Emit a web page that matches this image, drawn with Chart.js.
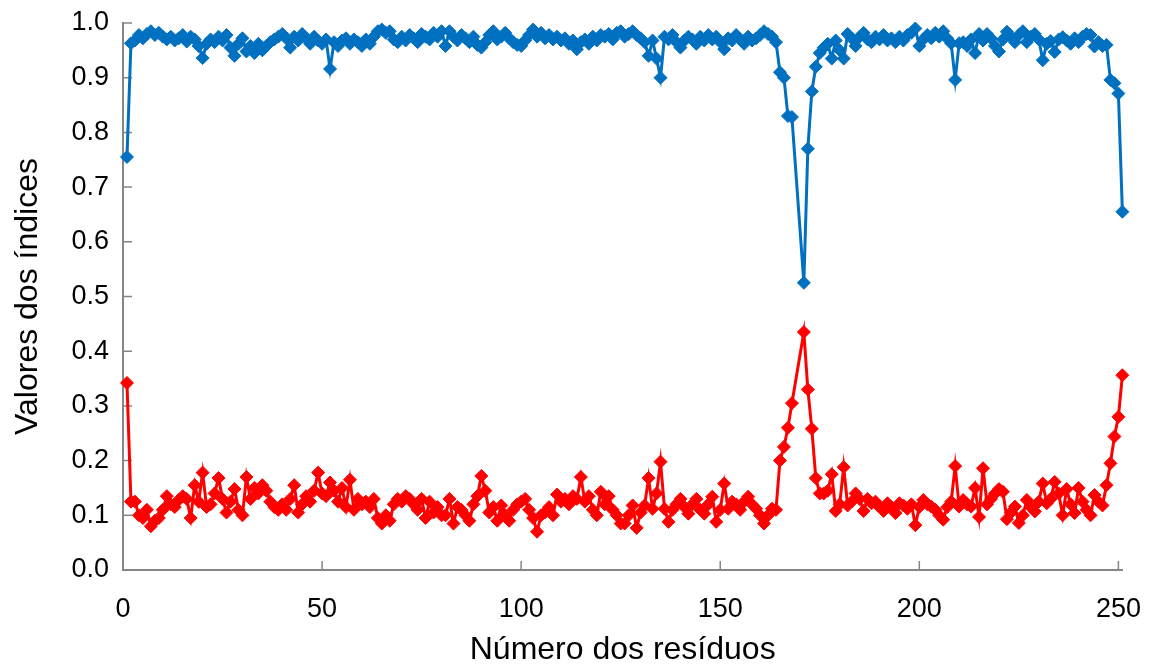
<!DOCTYPE html>
<html>
<head>
<meta charset="utf-8">
<script src="https://cdn.jsdelivr.net/npm/chart.js@4/dist/chart.umd.min.js"></script>
<style>
  html, body { margin: 0; padding: 0; background: #fff; }
  #wrap { width: 1156px; height: 669px; }
</style>
</head>
<body>
<div id="wrap"><canvas id="chart" width="1156" height="669"></canvas></div>
<script>
// residue numbers (x axis)
const residues = [
  1,2,3,4,5,6,7,8,9,10,11,12,13,14,15,16,17,18,19,20,
  21,22,23,24,25,26,27,28,29,30,31,32,33,34,35,36,37,38,39,40,
  41,42,43,44,45,46,47,48,49,50,51,52,53,54,55,56,57,58,59,60,
  61,62,63,64,65,66,67,68,69,70,71,72,73,74,75,76,77,78,79,80,
  81,82,83,84,85,86,87,88,89,90,91,92,93,94,95,96,97,98,99,100,
  101,102,103,104,105,106,107,108,109,110,111,112,113,114,115,116,117,118,119,120,
  121,122,123,124,125,126,127,128,129,130,131,132,133,134,135,136,137,138,139,140,
  141,142,143,144,145,146,147,148,149,150,151,152,153,154,155,156,157,158,159,160,
  161,162,163,164,165,166,167,168,169,170,171,172,173,174,175,176,177,178,179,180,
  181,182,183,184,185,186,187,188,189,190,191,192,193,194,195,196,197,198,199,200,
  201,202,203,204,205,206,207,208,209,210,211,212,213,214,215,216,217,218,219,220,
  221,222,223,224,225,226,227,228,229,230,231,232,233,234,235,236,237,238,239,240,
  241,242,243,244,245,246,247,248,249,250,251
];

// blue series (upper index)
const blueValues = [
  0.755,0.963,0.968,0.978,0.972,0.980,0.985,0.978,0.982,0.975,
  0.970,0.975,0.968,0.972,0.978,0.966,0.975,0.970,0.958,0.936,
  0.962,0.970,0.965,0.975,0.968,0.978,0.955,0.940,0.962,0.972,
  0.948,0.958,0.945,0.962,0.950,0.958,0.965,0.970,0.975,0.980,
  0.972,0.955,0.975,0.968,0.980,0.972,0.962,0.975,0.968,0.962,
  0.970,0.916,0.965,0.958,0.968,0.972,0.962,0.970,0.965,0.958,
  0.970,0.962,0.975,0.985,0.988,0.982,0.985,0.970,0.965,0.975,
  0.968,0.978,0.972,0.965,0.980,0.975,0.970,0.982,0.975,0.985,
  0.958,0.985,0.975,0.968,0.978,0.972,0.965,0.975,0.960,0.955,
  0.965,0.978,0.985,0.970,0.975,0.982,0.972,0.965,0.960,0.958,
  0.968,0.978,0.988,0.975,0.982,0.972,0.978,0.970,0.975,0.968,
  0.972,0.962,0.968,0.952,0.965,0.970,0.962,0.975,0.968,0.978,
  0.975,0.980,0.970,0.982,0.985,0.975,0.980,0.985,0.978,0.972,
  0.965,0.940,0.968,0.935,0.900,0.975,0.970,0.978,0.965,0.955,
  0.968,0.975,0.970,0.962,0.975,0.968,0.978,0.970,0.975,0.965,
  0.952,0.972,0.968,0.978,0.970,0.962,0.975,0.968,0.972,0.978,
  0.985,0.980,0.975,0.965,0.910,0.900,0.830,0.828,null,null,
  0.525,0.770,0.875,0.920,0.945,0.955,0.962,0.935,0.968,0.950,
  0.935,0.980,0.972,0.958,0.975,0.982,0.970,0.965,0.975,0.970,
  0.978,0.968,0.972,0.965,0.975,0.968,0.978,0.982,0.990,0.958,
  0.970,0.978,0.972,0.982,0.975,0.985,0.972,0.963,0.896,0.963,
  0.965,0.958,0.970,0.945,0.980,0.968,0.980,0.972,0.958,0.948,
  0.970,0.984,0.975,0.965,0.978,0.985,0.965,0.975,0.980,0.970,
  0.932,0.962,0.967,0.947,0.970,0.974,0.968,0.962,0.972,0.965,
  0.975,0.980,0.978,0.957,0.965,0.958,0.960,0.896,0.890,0.871,
  0.655
];

// red series (lower index)
const redValues = [
  0.342,0.125,0.125,0.100,0.095,0.110,0.080,0.090,0.095,0.110,
  0.135,0.120,0.115,0.128,0.135,0.130,0.095,0.155,0.125,0.178,
  0.115,0.120,0.140,0.168,0.130,0.105,0.125,0.148,0.110,0.100,
  0.170,0.130,0.150,0.140,0.155,0.145,0.125,0.115,0.110,0.120,
  0.110,0.130,0.155,0.105,0.120,0.135,0.125,0.145,0.178,0.140,
  0.135,0.160,0.145,0.125,0.150,0.115,0.165,0.110,0.130,0.120,
  0.125,0.115,0.130,0.095,0.085,0.100,0.090,0.120,0.130,0.125,
  0.135,0.130,0.120,0.110,0.130,0.095,0.125,0.105,0.115,0.100,
  0.100,0.130,0.085,0.115,0.110,0.100,0.090,0.120,0.135,0.172,
  0.145,0.105,0.115,0.090,0.118,0.100,0.090,0.110,0.120,0.125,
  0.130,0.110,0.095,0.070,0.100,0.105,0.115,0.100,0.138,0.125,
  0.130,0.120,0.135,0.130,0.170,0.125,0.135,0.110,0.100,0.143,
  0.120,0.135,0.110,0.100,0.085,0.085,0.100,0.118,0.077,0.105,
  0.118,0.168,0.112,0.140,0.198,0.112,0.088,0.110,0.120,0.130,
  0.115,0.103,0.120,0.130,0.110,0.103,0.120,0.134,0.088,0.110,
  0.158,0.112,0.125,0.120,0.110,0.125,0.134,0.120,0.112,0.100,
  0.085,0.100,0.112,0.110,0.200,0.225,0.260,0.305,null,null,
  0.435,0.330,0.258,0.168,0.140,0.140,0.145,0.175,0.108,0.120,
  0.188,0.118,0.125,0.140,0.130,0.108,0.130,0.122,0.125,0.115,
  0.108,0.122,0.115,0.104,0.122,0.118,0.112,0.120,0.082,0.115,
  0.128,0.120,0.116,0.110,0.100,0.092,0.115,0.125,0.190,0.116,
  0.128,0.120,0.116,0.150,0.097,0.186,0.120,0.130,0.140,0.148,
  0.143,0.093,0.105,0.116,0.086,0.100,0.128,0.115,0.107,0.125,
  0.158,0.122,0.130,0.161,0.140,0.100,0.148,0.120,0.104,0.150,
  0.125,0.110,0.100,0.137,0.125,0.118,0.155,0.195,0.244,0.280,
  0.356
];

const xTicks = [0, 50, 100, 150, 200, 250];
const yTicks = [0, 0.1, 0.2, 0.3, 0.4, 0.5, 0.6, 0.7, 0.8, 0.9, 1.0];

const axisColor = '#868686';
const fontFamily = '"Liberation Sans", Arial, sans-serif';

// Excel style tick marks that point into the plot
const insideTicks = {
  id: 'insideTicks',
  beforeDatasetsDraw(chart) {
    const { ctx, scales: { x, y } } = chart;
    ctx.save();
    ctx.strokeStyle = axisColor;
    ctx.lineWidth = 1.5;
    ctx.beginPath();
    xTicks.forEach(v => {
      const px = x.getPixelForValue(v);
      ctx.moveTo(px, y.bottom);
      ctx.lineTo(px, y.bottom - 9);
    });
    yTicks.forEach(v => {
      const py = y.getPixelForValue(v);
      ctx.moveTo(x.left, py);
      ctx.lineTo(x.left + 9, py);
    });
    ctx.stroke();
    ctx.restore();
  }
};

const toPoints = values => residues.map((r, i) => ({ x: r, y: values[i] }));

const ctx = document.getElementById('chart').getContext('2d');
new Chart(ctx, {
  type: 'line',
  data: {
    datasets: [{
      label: 'Série 1',
      data: toPoints(blueValues),
      borderColor: '#0070C0',
      backgroundColor: '#0070C0',
      borderWidth: 3,
      pointStyle: 'rectRot',
      pointRadius: 6.5,
      pointBorderWidth: 1,
      tension: 0,
      spanGaps: true,
      clip: false
    }, {
      label: 'Série 2',
      data: toPoints(redValues),
      borderColor: '#FF0000',
      backgroundColor: '#FF0000',
      borderWidth: 3,
      pointStyle: 'rectRot',
      pointRadius: 6.5,
      pointBorderWidth: 1,
      tension: 0,
      spanGaps: true,
      clip: false
    }]
  },
  options: {
    responsive: false,
    animation: false,
    layout: { padding: { top: 23, right: 18, left: 0, bottom: 0 } },
    plugins: {
      legend: { display: false },
      tooltip: { enabled: false }
    },
    scales: {
      x: {
        type: 'linear',
        min: 0,
        max: 251,
        grid: { display: false },
        border: { display: true, color: axisColor, width: 2 },
        afterBuildTicks: scale => { scale.ticks = xTicks.map(v => ({ value: v })); },
        afterFit: scale => { scale.height = 99; },
        ticks: {
          autoSkip: false,
          maxRotation: 0,
          padding: 15,
          color: '#000',
          font: { family: fontFamily, size: 27 }
        },
        title: {
          display: true,
          text: 'Número dos resíduos',
          color: '#000',
          padding: { top: 0, bottom: 0 },
          font: { family: fontFamily, size: 32 }
        }
      },
      y: {
        min: 0,
        max: 1,
        grid: { display: false },
        border: { display: true, color: axisColor, width: 2 },
        afterBuildTicks: scale => { scale.ticks = yTicks.map(v => ({ value: v })); },
        afterFit: scale => { scale.width = 123; },
        ticks: {
          padding: 6,
          color: '#000',
          font: { family: fontFamily, size: 27 },
          callback: value => Number(value).toFixed(1)
        },
        title: {
          display: true,
          text: 'Valores dos índices',
          color: '#000',
          padding: { top: 9, bottom: 9 },
          font: { family: fontFamily, size: 32 }
        }
      }
    }
  },
  plugins: [insideTicks]
});
</script>
</body>
</html>
